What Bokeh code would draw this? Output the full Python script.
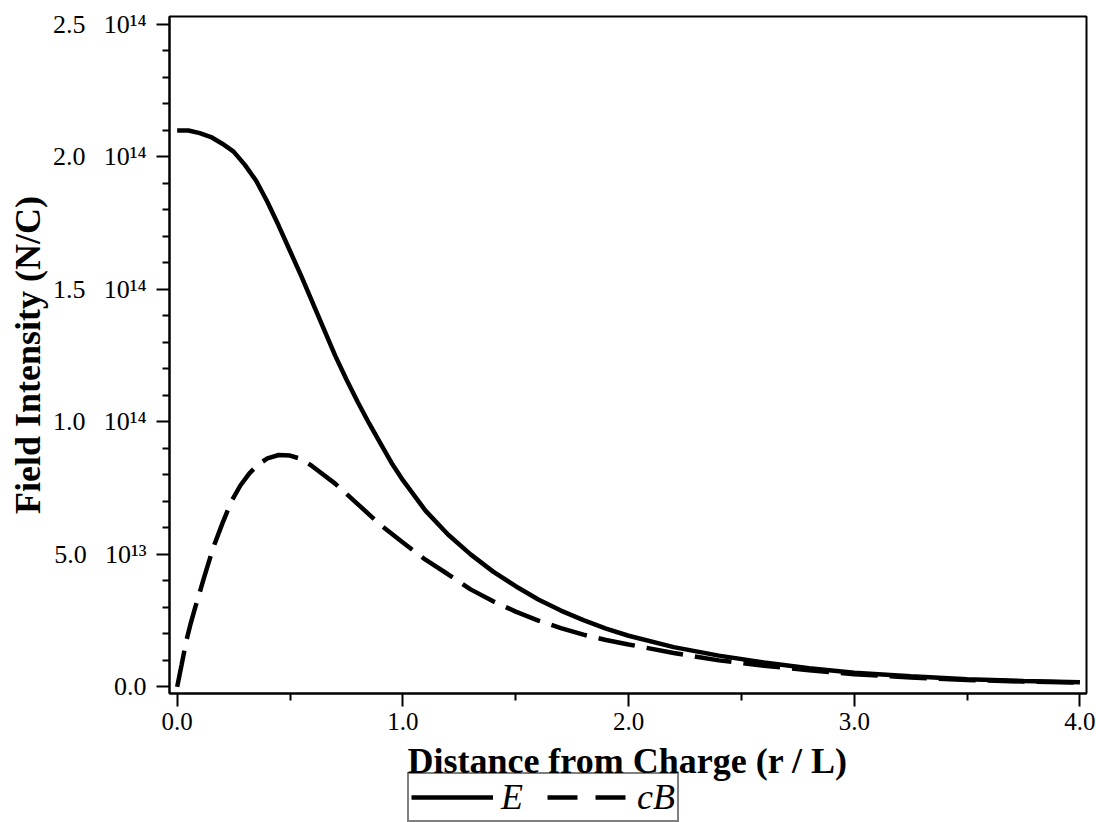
import numpy as np
from bokeh.plotting import figure
from bokeh.layouts import column
from bokeh.models import Range1d, FixedTicker, Legend, LegendItem, Label
from bokeh.embed import file_html
from bokeh.resources import INLINE

# ---- data (field values in units of 1e14 N/C) ----
r_E = [0.0, 0.05, 0.1, 0.15, 0.2, 0.25, 0.3, 0.35, 0.4, 0.45, 0.5, 0.55, 0.6, 0.65,
       0.7, 0.75, 0.8, 0.85, 0.9, 0.95, 1.0, 1.1, 1.2, 1.3, 1.4, 1.5, 1.6, 1.7, 1.8,
       1.9, 2.0, 2.2, 2.4, 2.6, 2.8, 3.0, 3.25, 3.5, 3.75, 4.0]
E_e14 = [2.10, 2.10, 2.09, 2.075, 2.05, 2.02, 1.97, 1.91, 1.83, 1.74, 1.645, 1.55, 1.45,
         1.35, 1.25, 1.16, 1.075, 0.995, 0.92, 0.845, 0.78, 0.665, 0.575, 0.50, 0.435,
         0.38, 0.33, 0.288, 0.252, 0.22, 0.193, 0.15, 0.118, 0.092, 0.07, 0.053, 0.04,
         0.029, 0.022, 0.017]

r_B = [0.0, 0.02, 0.04, 0.06, 0.08, 0.1, 0.12, 0.16, 0.2, 0.24, 0.28, 0.32, 0.36, 0.4,
       0.45, 0.5, 0.55, 0.6, 0.7, 0.8, 0.9, 1.0, 1.1, 1.2, 1.3, 1.4, 1.5, 1.6, 1.7, 1.8,
       1.9, 2.0, 2.2, 2.4, 2.6, 2.8, 3.0, 3.25, 3.5, 3.75, 4.0]
cB_e14 = [0.0, 0.085, 0.172, 0.24, 0.30, 0.357, 0.415, 0.526, 0.616, 0.70, 0.76, 0.806,
          0.84, 0.862, 0.875, 0.873, 0.86, 0.832, 0.767, 0.69, 0.612, 0.545, 0.48, 0.425,
          0.368, 0.323, 0.284, 0.25, 0.222, 0.197, 0.177, 0.16, 0.128, 0.10, 0.08, 0.063,
          0.048, 0.035, 0.026, 0.02, 0.016]

x_ticks = [0, 1, 2, 3, 4]
x_tick_labels = ["0.0", "1.0", "2.0", "3.0", "4.0"]
x_minor_ticks = [0.5, 1.5, 2.5, 3.5]

SP = "\u2002\u2009"
y_ticks_e13 = [0, 5, 10, 15, 20, 25]
y_tick_labels = ["0.0", "5.0" + SP + "10\u00b9\u00b3", "1.0" + SP + "10\u00b9\u2074",
                 "1.5" + SP + "10\u00b9\u2074", "2.0" + SP + "10\u00b9\u2074",
                 "2.5" + SP + "10\u00b9\u2074"]
y_minor_e13 = [1, 2, 3, 4, 6, 7, 8, 9, 11, 12, 13, 14, 16, 17, 18, 19, 21, 22, 23, 24]

x_title = "Distance from Charge (r / L)"
y_title = "Field Intensity (N/C)"
series_labels = ["E", "cB"]

SCALE = 1e14
E = np.array(E_e14) * SCALE
cB = np.array(cB_e14) * SCALE
y_ticks = [v * 1e13 for v in y_ticks_e13]
y_minor = [v * 1e13 for v in y_minor_e13]

FONT = "Liberation Serif"
W = 1096
H_MAIN = 740
H_LOW = 822 - H_MAIN

p = figure(width=W, height=H_MAIN, output_backend="svg", toolbar_location=None,
           x_range=Range1d(-0.034, 4.029), y_range=Range1d(-0.025e14, 2.53e14),
           min_border_left=169, min_border_right=10, min_border_top=16,
           min_border_bottom=47)
p.background_fill_color = "white"
p.border_fill_color = "white"
p.grid.visible = False
p.outline_line_color = "black"
p.outline_line_width = 2

for ax in (p.xaxis[0], p.yaxis[0]):
    ax.axis_line_width = 2
    ax.axis_line_color = "black"
    ax.major_tick_line_width = 2
    ax.minor_tick_line_width = 2
    ax.major_tick_line_color = "black"
    ax.minor_tick_line_color = "black"
    ax.major_tick_in = 0
    ax.major_tick_out = 13
    ax.minor_tick_in = 0
    ax.minor_tick_out = 7
    ax.major_label_text_font = FONT
    ax.major_label_text_font_size = "25px"
    ax.major_label_text_color = "black"
    ax.axis_label_text_font = FONT
    ax.axis_label_text_font_style = "bold"
    ax.axis_label_text_font_size = "36px"
    ax.axis_label_text_color = "black"

xa = p.xaxis[0]
xa.ticker = FixedTicker(ticks=x_ticks, minor_ticks=x_minor_ticks)
xa.major_label_overrides = {t: l for t, l in zip(x_ticks, x_tick_labels)}
xa.major_label_standoff = 6

ya = p.yaxis[0]
ya.ticker = FixedTicker(ticks=y_ticks, minor_ticks=y_minor)
ya.major_label_overrides = {t: l for t, l in zip(y_ticks, y_tick_labels)}
ya.major_label_text_font_size = "26px"
ya.major_label_standoff = 10
ya.axis_label = y_title
ya.axis_label_standoff = 2

p.line(r_E, E, line_color="black", line_width=4.5)
p.line(r_B, cB, line_color="black", line_width=4.5, line_dash="37 12")

# ---- strip below the chart: x-axis title and legend ----
q = figure(width=W, height=H_LOW, output_backend="svg", toolbar_location=None,
           x_range=Range1d(0, 1), y_range=Range1d(0, 1),
           x_axis_type=None, y_axis_type=None, min_border=0)
q.grid.visible = False
q.outline_line_color = None
q.background_fill_color = "white"
q.border_fill_color = "white"

q.add_layout(Label(x=458, y=62, x_units="screen", y_units="screen", text=x_title,
                   text_align="center", text_baseline="alphabetic",
                   text_font=FONT, text_font_style="bold", text_font_size="36px",
                   text_color="black"))

kE = q.line(x=[np.nan], y=[np.nan], line_color="black", line_width=4.5)
kB = q.line(x=[np.nan], y=[np.nan], line_color="black", line_width=4.5,
            line_dash="30 18")

legend = Legend(items=[LegendItem(label=series_labels[0], renderers=[kE]),
                       LegendItem(label=series_labels[1], renderers=[kB])],
                orientation="horizontal", location=(238, 0),
                label_text_font=FONT, label_text_font_style="italic",
                label_text_font_size="36px", label_text_color="black",
                glyph_width=82, glyph_height=26, label_height=26,
                label_standoff=8, spacing=24, padding=2, margin=0,
                border_line_color="black", border_line_width=2,
                background_fill_alpha=0.0)
q.add_layout(legend)

layout = column(p, q, spacing=0)
open("out.html", "w").write(file_html(layout, INLINE))
